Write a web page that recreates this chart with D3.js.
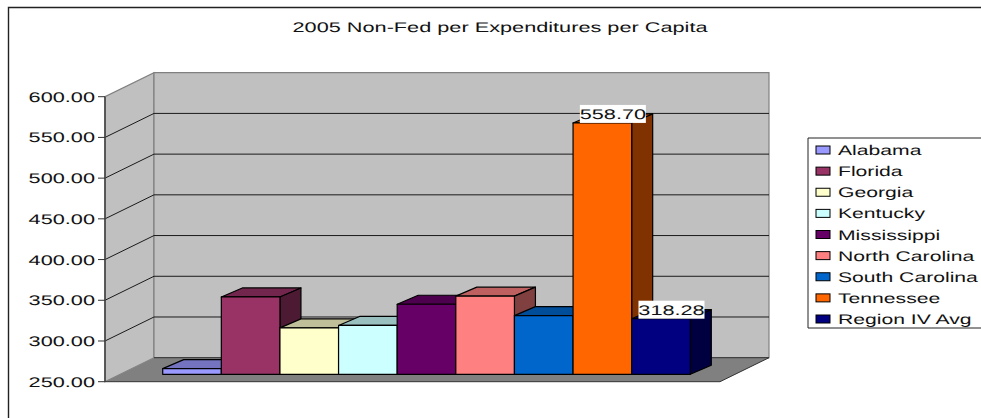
<!DOCTYPE html>
<html>
<head>
<meta charset="utf-8">
<title>2005 Non-Fed per Expenditures per Capita</title>
<script src="https://d3js.org/d3.v7.min.js"></script>
<style>
  html, body { margin: 0; padding: 0; background: #fff; overflow: hidden; }
  svg { display: block; }
  text { font-family: "Liberation Sans", Arial, sans-serif; fill: #111; text-rendering: geometricPrecision; }
</style>
</head>
<body>
<div id="chart"></div>
<script>
const title = "2005 Non-Fed per Expenditures per Capita";
const states = ["Alabama", "Florida", "Georgia", "Kentucky", "Mississippi",
    "North Carolina", "South Carolina", "Tennessee", "Region IV Avg"];
const values = [257, 345, 307, 310, 336, 346, 322, 558.70, 318.28];
const colors = ["#9999ff", "#993366", "#ffffcc", "#ccffff", "#660066",
    "#ff8080", "#0066cc", "#ff6600", "#000080"];
const tickValues = [250, 300, 350, 400, 450, 500, 550, 600];
const labelled = ["Tennessee", "Region IV Avg"];

const width = 981, height = 418;
const fontSize = 14, stretch = 1.55;   // the original picture is stretched sideways

const svg = d3.select("#chart").append("svg")
    .attr("width", width)
    .attr("height", height);

// frame is cut off by the right and bottom of the picture
svg.append("path")
    .attr("d", `M8.5,${height} V7.5 H${width}`)
    .attr("fill", "none")
    .attr("stroke", "#222")
    .attr("stroke-width", 1.4);

// stretched text, x is where the anchor goes
function label(parent, x, y, str, anchor, sx = stretch) {
    return parent.append("text")
        .attr("transform", `translate(${x},${y}) scale(${sx},1)`)
        .attr("text-anchor", anchor)
        .attr("font-size", fontSize)
        .text(str);
}

label(svg, 500, 32, title, "middle");

// Plot: front plane of the axis, and the depth of the box
const left = 105, right = 720;
const wallDx = 49, wallDy = -24;
const y = d3.scaleLinear().domain([250, 600]).range([381.7, 96.7]);

const poly = pts => pts.map(p => p.join(",")).join(" ");

// side wall, back wall, floor
svg.append("polygon")
    .attr("points", poly([[left, y(250)], [left + wallDx, y(250) + wallDy],
        [left + wallDx, y(600) + wallDy], [left, y(600)]]))
    .attr("fill", "#c0c0c0").attr("stroke", "#808080").attr("stroke-width", 1.2);
svg.append("polygon")
    .attr("points", poly([[left + wallDx, y(250) + wallDy], [right + wallDx, y(250) + wallDy],
        [right + wallDx, y(600) + wallDy], [left + wallDx, y(600) + wallDy]]))
    .attr("fill", "#c0c0c0").attr("stroke", "#808080").attr("stroke-width", 1.2);
svg.append("polygon")
    .attr("points", poly([[left, y(250)], [left + wallDx, y(250) + wallDy],
        [right + wallDx, y(250) + wallDy], [right, y(250)]]))
    .attr("fill", "#808080");
svg.append("path")
    .attr("d", `M${left + wallDx},${y(250) + wallDy} H${right + wallDx} L${right},${y(250)} H${left}`)
    .attr("fill", "none").attr("stroke", "#333").attr("stroke-width", 1);

// gridlines wrap round the side wall and the back wall
svg.selectAll(".grid")
    .data(tickValues.slice(1, -1))
    .join("path")
    .attr("class", "grid")
    .attr("d", d => `M${left},${y(d)} L${left + wallDx},${y(d) + wallDy} H${right + wallDx}`)
    .attr("fill", "none")
    .attr("stroke", "#1a1a1a")
    .attr("stroke-width", 1);

// value axis
svg.append("line")
    .attr("x1", left).attr("x2", left)
    .attr("y1", y(600)).attr("y2", y(250))
    .attr("stroke", "#444").attr("stroke-width", 1.6);
svg.selectAll(".tick")
    .data(tickValues)
    .join("line")
    .attr("class", "tick")
    .attr("x1", left - 7).attr("x2", left)
    .attr("y1", d => y(d)).attr("y2", d => y(d))
    .attr("stroke", "#333");
tickValues.forEach(d => label(svg, 95, y(d) + 5, d.toFixed(2), "end"));

// Bars stand a little way in from the front of the floor
const x = d3.scaleBand().domain(states).range([162.7, 690.3]);
const barDx = 21, barDy = -9, barLift = -7.4;
const barBase = y(250) + barLift;
const barH = d => y(250) - y(d);
const shade = (c, k) => {
    const o = d3.rgb(c);
    return d3.rgb(o.r * k, o.g * k, o.b * k).formatHex();
};

const bars = svg.selectAll(".bar")
    .data(states.map((s, i) => ({ state: s, value: values[i], color: colors[i] })))
    .join("g")
    .attr("class", "bar")
    .attr("stroke", "#000")
    .attr("stroke-width", 1.2)
    .attr("stroke-linejoin", "round");

// top
bars.append("polygon")
    .attr("fill", d => shade(d.color, 0.75))
    .attr("points", d => {
        const x0 = x(d.state), x1 = x0 + x.bandwidth(), t = barBase - barH(d.value);
        return poly([[x0, t], [x0 + barDx, t + barDy], [x1 + barDx, t + barDy], [x1, t]]);
    });
// side
bars.append("polygon")
    .attr("fill", d => shade(d.color, 0.5))
    .attr("points", d => {
        const x1 = x(d.state) + x.bandwidth(), t = barBase - barH(d.value);
        return poly([[x1, t], [x1 + barDx, t + barDy], [x1 + barDx, barBase + barDy], [x1, barBase]]);
    });
// front
bars.append("rect")
    .attr("fill", d => d.color)
    .attr("x", d => x(d.state))
    .attr("y", d => barBase - barH(d.value))
    .attr("width", x.bandwidth())
    .attr("height", d => barH(d.value));

// Data labels on a white patch
labelled.forEach(name => {
    const i = states.indexOf(name);
    const cx = x(name) + x.bandwidth() / 2 + barDx / 2;
    const t = barBase - barH(values[i]);
    svg.append("rect")
        .attr("x", cx - 33).attr("y", t - 18)
        .attr("width", 66).attr("height", 18)
        .attr("fill", "#fff");
    label(svg, cx, t - 4, values[i].toFixed(2), "middle");
});

// Legend
const legendTop = 138, legendBottom = 328, legendLeft = 808;
svg.append("path")
    .attr("d", `M${width},${legendTop} H${legendLeft} V${legendBottom} H${width}`)
    .attr("fill", "#fff")
    .attr("stroke", "#222")
    .attr("stroke-width", 1);

const legendY = d3.scalePoint().domain(states).range([150, 319]);
svg.selectAll(".key")
    .data(states)
    .join("rect")
    .attr("class", "key")
    .attr("x", 816).attr("width", 14)
    .attr("y", d => legendY(d) - 4).attr("height", 8)
    .attr("fill", (d, i) => colors[i])
    .attr("stroke", "#000");
states.forEach(s => label(svg, 838, legendY(s) + 5, s, "start", 1.51));
</script>
</body>
</html>
